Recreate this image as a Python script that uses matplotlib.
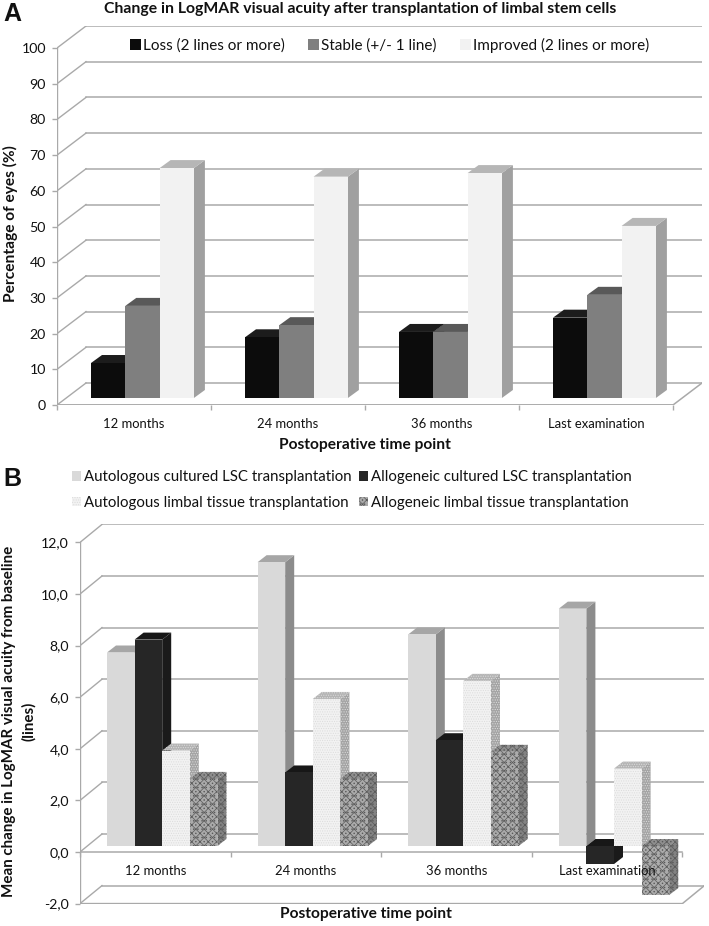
import matplotlib
matplotlib.use("Agg")
import matplotlib.pyplot as plt
from matplotlib.patches import Polygon, Patch

# Panel A data
cats_a = ["12 months", "24 months", "36 months", "Last examination"]
loss = [9.8, 17.0, 18.5, 22.5]
stable = [25.8, 20.4, 18.5, 28.9]
improved = [64.4, 62.0, 63.0, 48.2]
ticks_a = [0, 10, 20, 30, 40, 50, 60, 70, 80, 90, 100]
labels_a = ["Loss (2 lines or more)", "Stable (+/- 1 line)", "Improved (2 lines or more)"]

# Panel B data
cats_b = ["12 months", "24 months", "36 months", "Last examination"]
auto_cult = [7.5, 11.0, 8.2, 9.2]
allo_cult = [8.0, 2.85, 4.1, -0.7]
auto_limbal = [3.7, 5.7, 6.4, 3.0]
allo_limbal = [2.6, 2.6, 3.65, -1.9]
ticks_b = [-2, 0, 2, 4, 6, 8, 10, 12]
labels_b = ["Autologous cultured LSC transplantation", "Allogeneic cultured LSC transplantation",
            "Autologous limbal tissue transplantation", "Allogeneic limbal tissue transplantation"]

W, H = 709, 926
plt.rcParams['font.family'] = ['Lato', 'DejaVu Sans']
plt.rcParams['hatch.linewidth'] = 0.5
fig = plt.figure(figsize=(W / 100, H / 100), dpi=100)
GRID = "#a9a9a9"
INK = "#111111"

# face, top, side, hatch, hatch colour
styles_a = [
    ("#0c0c0c", "#1c1c1c", "#0a0a0a", None, None),
    ("#7f7f7f", "#595959", "#595959", None, None),
    ("#f2f2f2", "#b6b6b6", "#a0a0a0", None, None),
]
styles_b = [
    ("#d9d9d9", "#a6a6a6", "#8c8c8c", None, None),
    ("#262626", "#171717", "#1a1a1a", None, None),
    ("#f2f2f2", "#b4b4b4", "#a4a4a4", ".......", "#dcdcdc"),
    ("#ababab", "#8f8f8f", "#828282", "xxxx....", "#5a5a5a"),
]


def make_axes(x0, ybase, sx, sy, ymin, ymax, back_x, back_y):
    # ybase is the pixel row of ymin, sx/sy are pixels per unit
    width = 4 * sx + back_x
    height = (ymax - ymin) * sy + back_y
    ax = fig.add_axes([x0 / W, 1 - ybase / H, width / W, height / H])
    ax.set_xlim(0, width / sx)
    ax.set_ylim(ymin, ymin + height / sy)
    ax.patch.set_visible(False)
    for s in ax.spines.values():
        s.set_visible(False)
    return ax


def draw_walls(ax, ticks, dx, dy, xmax):
    ymin = ticks[0]
    for t in ticks:
        ax.plot([0, dx], [t, t + dy], color=GRID, lw=1, zorder=0.5)
        ax.plot([dx, xmax + dx], [t + dy, t + dy], color=GRID, lw=1.1, zorder=0.5)
    ax.plot([0, 0], [ymin, ticks[-1]], color=GRID, lw=1, zorder=0.5)
    ax.plot([0, xmax, xmax + dx], [ymin, ymin, ymin + dy], color=GRID, lw=1.1, zorder=0.5)
    ax.plot([0, xmax], [0, 0], color=GRID, lw=1.1, zorder=0.5)


def bar3d(ax, left, w, v, oy, dx, dy, style):
    face, top, side, hatch, hc = style
    y0 = oy
    y1 = oy + v
    hi = max(y0, y1)
    ax.add_patch(Polygon([(left + w, y0), (left + w + dx, y0 + dy), (left + w + dx, y1 + dy), (left + w, y1)],
                         facecolor=side, edgecolor=hc if hc else side, hatch=hatch, lw=0))
    ax.add_patch(Polygon([(left, hi), (left + dx, hi + dy), (left + w + dx, hi + dy), (left + w, hi)],
                         facecolor=top, edgecolor=hc if hc else top, hatch=hatch, lw=0))
    ax.add_patch(Polygon([(left, y0), (left + w, y0), (left + w, y1), (left, y1)],
                         facecolor=face, edgecolor=hc if hc else face, hatch=hatch, lw=0))


def draw_bars(ax, series, styles, lead, w, oy, dx, dy):
    for c in range(4):
        for i, vals in enumerate(series):
            bar3d(ax, c + lead + i * w, w, vals[c], oy, dx, dy, styles[i])


def style_ticks(ax, yticks, ylabels, cats):
    ax.set_axisbelow(False)
    ax.spines['bottom'].set_position(('data', 0))
    ax.set_yticks(yticks)
    ax.set_yticklabels(ylabels, fontsize=10.2, color=INK)
    ax.set_xticks([0, 1, 2, 3, 4])
    ax.set_xticklabels([])
    ax.set_xticks([0.5, 1.5, 2.5, 3.5], minor=True)
    ax.set_xticklabels(cats, minor=True, fontsize=9.4, color=INK)
    ax.tick_params(axis='y', length=3.5, color=GRID, pad=4.5, width=1)
    ax.tick_params(axis='x', which='major', length=3.5, color=GRID, width=1)
    ax.tick_params(axis='x', which='minor', length=0, pad=9.2)


def ftext(px, py, s, **kw):
    fig.text(px / W, 1 - py / H, s, color=INK, ha='center', va='center', **kw)


# ---------------- Panel A ----------------
sx_a, sy_a = 154.0, 3.57
ax_a = make_axes(57, 405, sx_a, sy_a, 0, 100, 29, 22)
draw_walls(ax_a, ticks_a, 29 / sx_a, 22 / sy_a, 4)
draw_bars(ax_a, [loss, stable, improved], styles_a, 34 / sx_a, 34.3 / sx_a, 7 / sy_a, 11 / sx_a, 8 / sy_a)
style_ticks(ax_a, ticks_a, [str(t) for t in ticks_a], cats_a)

handles_a = [Patch(facecolor=s[0]) for s in styles_a]
fig.legend(handles_a, labels_a, loc='center left', bbox_to_anchor=(130 / W, 1 - 45 / H), ncol=3,
           frameon=False, fontsize=11, handlelength=0.72, handleheight=0.72, handletextpad=0.15,
           columnspacing=1.5, labelcolor=INK, borderpad=0, borderaxespad=0)

ftext(360, 8.5, "Change in LogMAR visual acuity after transplantation of limbal stem cells",
      fontsize=11.3, fontweight='bold')
ftext(365, 445, "Postoperative time point", fontsize=11.2, fontweight='bold')
ftext(10, 224, "Percentage of eyes (%)", fontsize=11.2, fontweight='bold', rotation=90)
ftext(12, 14, "A", family="Liberation Sans", fontsize=18, fontweight='bold')

# ---------------- Panel B ----------------
sx_b, sy_b = 150.6, 25.8
ax_b = make_axes(80, 903.6, sx_b, sy_b, -2, 12, 22, 18)
draw_walls(ax_b, ticks_b, 22 / sx_b, 18 / sy_b, 4)
draw_bars(ax_b, [auto_cult, allo_cult, auto_limbal, allo_limbal], styles_b, 27 / sx_b, 27.6 / sx_b,
          6 / sy_b, 9 / sx_b, 7 / sy_b)
style_ticks(ax_b, ticks_b, [f"{t:.1f}".replace(".", ",") for t in ticks_b], cats_b)

# legend fills column by column, so swap the middle two to read row by row
order = [0, 2, 1, 3]
handles_b = [Patch(facecolor=styles_b[i][0], edgecolor=styles_b[i][4] if styles_b[i][4] else styles_b[i][0],
                   hatch=styles_b[i][3], lw=0) for i in order]
fig.legend(handles_b, [labels_b[i] for i in order], loc='center left', bbox_to_anchor=(72 / W, 1 - 490 / H),
           ncol=2, frameon=False, fontsize=10.85, handlelength=0.6, handleheight=0.6, handletextpad=0.2,
           columnspacing=0.5, labelspacing=0.75, labelcolor=INK, borderpad=0, borderaxespad=0)

ftext(366, 914, "Postoperative time point", fontsize=11.2, fontweight='bold')
ftext(9, 721, "Mean change in LogMAR visual acuity from baseline", fontsize=10.9, fontweight='bold', rotation=90)
ftext(29, 721, "(lines)", fontsize=10.9, fontweight='bold', rotation=90)
ftext(12, 479, "B", family="Liberation Sans", fontsize=18, fontweight='bold')

fig.savefig("out.png", dpi=100)
